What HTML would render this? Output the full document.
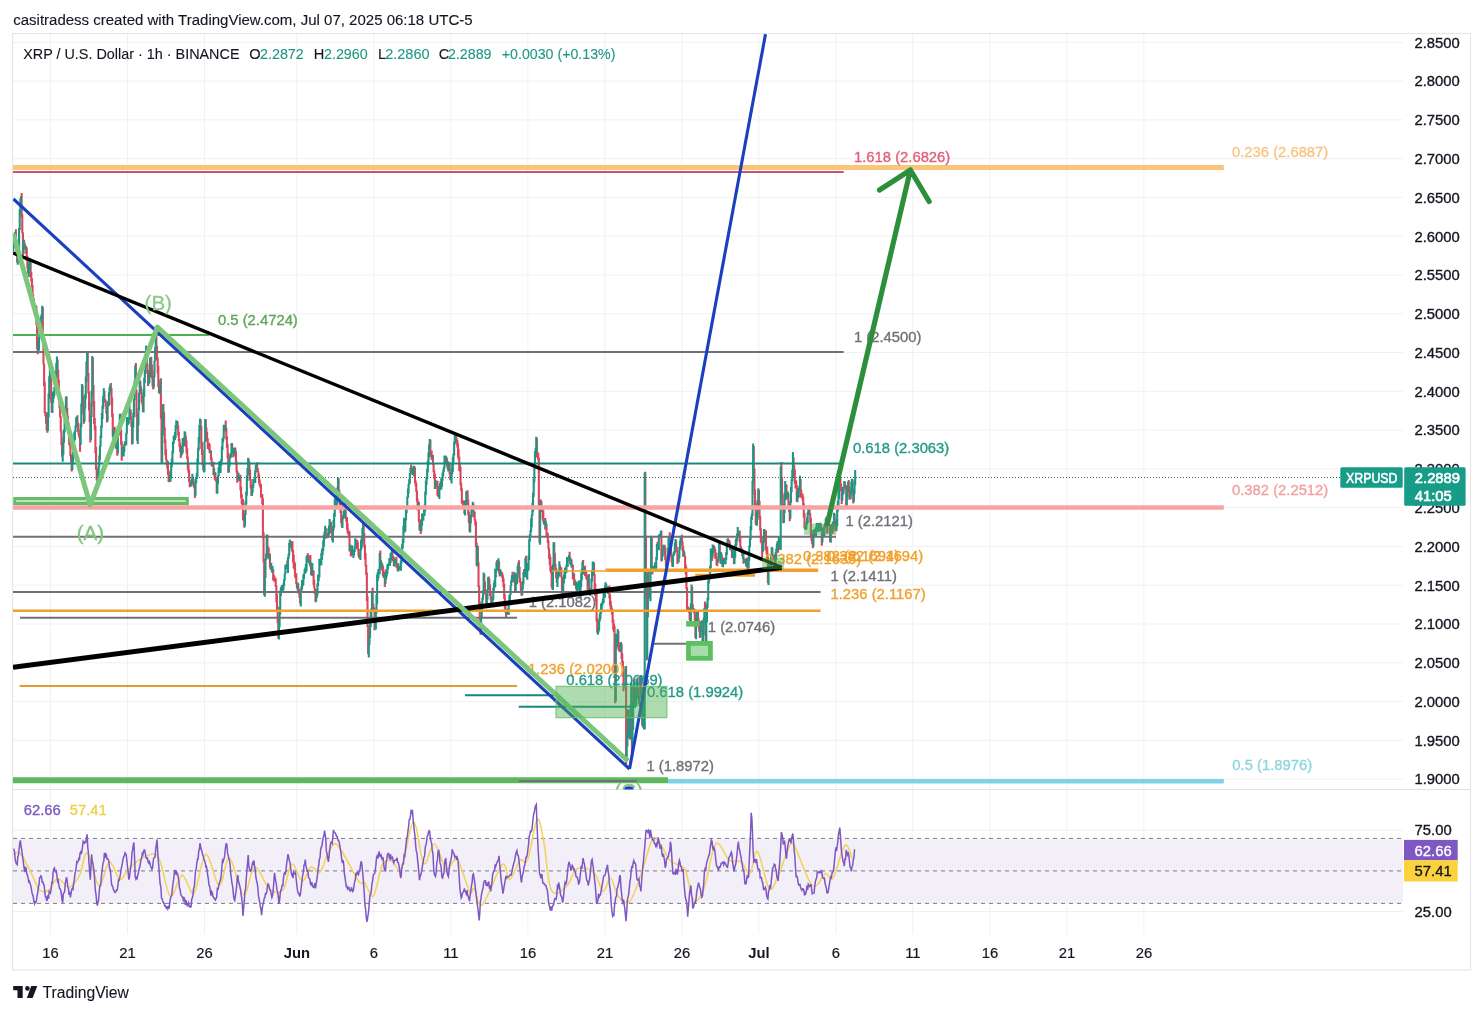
<!DOCTYPE html><html><head><meta charset="utf-8"><style>
html,body{margin:0;padding:0;background:#fff;width:1483px;height:1014px;overflow:hidden}
svg{display:block;font-family:"Liberation Sans", sans-serif;will-change:transform}
</style></head><body>
<svg width="1483" height="1014" viewBox="0 0 1483 1014">
<defs><clipPath id="mp"><rect x="13" y="34" width="1390" height="755.5"/></clipPath>
<clipPath id="rp"><rect x="13" y="789.5" width="1390" height="144.5"/></clipPath></defs>
<rect x="0" y="0" width="1483" height="1014" fill="#ffffff"/>

<text x="13.2" y="24.8" font-size="15.2" fill="#131722" stroke="#131722" stroke-width="0.12" textLength="459.4" lengthAdjust="spacingAndGlyphs">casitradess created with TradingView.com, Jul 07, 2025 06:18 UTC-5</text>
<path d="M13 42.3H1403 M13 81.1H1403 M13 119.9H1403 M13 158.6H1403 M13 197.4H1403 M13 236.2H1403 M13 275.0H1403 M13 313.8H1403 M13 352.5H1403 M13 391.3H1403 M13 430.1H1403 M13 468.9H1403 M13 507.7H1403 M13 546.4H1403 M13 585.2H1403 M13 624.0H1403 M13 662.8H1403 M13 701.6H1403 M13 740.3H1403 M13 779.1H1403 M13 830.3H1403 M13 911.5H1403 M50.5 34V934 M127.5 34V934 M204.5 34V934 M296.9 34V934 M373.9 34V934 M450.9 34V934 M527.9 34V934 M604.9 34V934 M681.9 34V934 M758.9 34V934 M835.9 34V934 M912.9 34V934 M989.9 34V934 M1066.9 34V934 M1143.9 34V934" stroke="#f0f1f1" stroke-width="1" fill="none"/>
<rect x="12.5" y="33.5" width="1458" height="936.5" fill="none" stroke="#e6e6e8" stroke-width="1.2"/>
<line x1="13" y1="789.5" x2="1470" y2="789.5" stroke="#e2e2e5" stroke-width="1.2"/>
<g clip-path="url(#mp)"><path d="M15.87 229.3V249.0M16.51 245.5V255.9M17.15 253.2V262.6M21.64 192.9V217.2M22.28 214.0V233.2M22.93 232.4V255.2M24.21 240.2V246.4M24.85 243.4V248.3M26.13 246.4V253.7M26.78 247.6V260.9M27.42 256.2V268.8M28.06 266.8V273.6M30.63 259.0V277.2M31.27 271.9V281.3M31.91 278.0V287.2M32.55 284.9V302.0M33.19 294.5V301.4M33.83 298.6V308.2M35.12 306.4V312.7M36.4 306.1V325.0M37.04 324.0V349.1M37.68 338.6V354.2M42.82 307.1V337.5M43.46 335.3V364.3M44.1 363.8V386.3M44.74 381.8V413.1M45.38 411.7V416.3M46.03 412.3V423.8M46.67 421.4V430.6M47.31 424.4V432.7M50.52 360.4V385.2M51.16 378.5V402.8M51.8 402.2V412.2M57.58 359.5V372.5M58.22 369.8V383.7M58.86 379.9V396.9M59.5 394.5V408.4M60.14 404.0V417.5M60.78 416.4V431.4M61.43 431.0V445.0M62.07 441.4V456.8M66.56 396.2V410.7M67.2 407.8V420.4M67.84 415.4V423.7M68.48 421.7V434.1M69.12 431.6V444.6M69.77 438.7V446.1M70.41 437.2V456.2M71.05 454.6V462.5M71.69 459.6V471.6M77.47 415.3V424.0M78.11 423.0V432.5M78.75 429.2V435.5M79.39 432.9V438.2M80.03 436.3V451.8M82.6 385.3V398.4M83.24 396.1V414.3M83.88 408.7V423.8M87.73 352.8V375.8M88.38 373.1V393.6M89.02 391.6V410.5M89.66 402.5V422.3M90.3 418.2V442.4M92.87 357.5V387.0M93.51 385.0V406.8M94.15 400.9V424.0M94.79 417.9V430.3M95.43 425.8V453.2M96.08 447.0V469.8M96.72 467.6V480.6M104.42 390.9V399.9M105.06 399.1V402.6M105.7 400.2V406.8M106.34 406.3V413.6M106.98 408.7V422.5M110.83 382.9V392.5M111.48 387.9V405.0M112.12 397.6V416.9M112.76 413.5V436.7M114.04 427.2V432.3M114.68 426.8V435.6M115.33 430.6V445.6M115.97 438.8V448.7M117.25 442.5V455.7M118.53 428.9V436.1M120.46 413.5V434.3M121.1 429.5V444.7M121.74 441.0V460.8M123.03 450.0V456.1M125.59 442.0V445.8M130.08 409.3V412.8M130.73 409.6V419.6M131.37 416.5V426.8M132.01 424.8V444.4M135.86 362.9V391.3M136.5 389.8V417.2M137.14 413.7V440.8M140.35 380.4V387.6M140.99 386.3V394.1M141.63 392.5V402.2M142.28 395.4V404.7M142.92 402.8V412.0M146.77 347.8V366.9M147.41 363.7V374.1M148.05 370.3V386.1M151.26 356.8V369.3M151.9 364.4V378.4M152.54 370.2V386.4M153.18 383.5V389.4M156.39 332.8V352.2M157.03 346.1V360.3M157.68 357.5V373.4M158.32 365.7V387.1M158.96 386.6V393.2M160.88 378.3V418.7M161.53 413.6V462.6M163.45 404.1V418.6M164.09 412.3V428.3M164.73 427.3V443.3M165.38 439.2V455.3M166.02 448.9V460.2M166.66 459.2V464.7M167.3 460.6V468.6M167.94 461.2V474.7M168.58 470.2V482.1M169.23 474.2V482.3M177.57 421.1V429.3M178.21 425.2V435.4M178.85 431.9V441.3M179.49 439.1V447.0M180.13 443.0V452.0M180.78 446.3V457.9M182.06 445.7V454.6M183.34 440.7V445.4M185.27 432.2V442.7M185.91 436.2V447.2M186.55 440.4V453.6M187.19 448.3V459.0M187.83 456.8V469.8M188.48 463.3V472.7M189.12 469.7V481.7M189.76 479.8V487.3M190.4 482.1V487.0M192.97 476.7V483.7M193.61 481.0V486.8M194.25 484.0V488.2M194.89 487.5V498.0M200.67 419.5V430.8M201.31 426.0V448.8M201.95 442.1V454.9M202.59 450.3V465.4M203.23 463.8V470.3M205.8 419.3V432.7M206.44 427.4V434.2M207.08 432.1V441.5M207.73 438.3V448.9M208.37 444.4V447.2M209.01 442.8V449.9M209.65 444.0V453.0M210.93 450.5V460.1M211.58 457.3V465.9M212.22 462.1V466.8M213.5 461.7V474.9M214.78 472.1V479.8M215.43 472.3V480.8M216.07 478.1V481.4M216.71 477.5V493.3M219.92 461.2V468.7M225.69 420.5V431.9M226.33 427.8V439.7M226.98 436.2V447.9M227.62 443.9V458.2M228.26 452.9V472.7M232.11 442.9V451.4M233.39 447.6V457.2M235.32 447.5V455.8M235.96 450.9V464.9M236.6 461.4V472.5M237.24 470.8V482.8M239.17 475.9V481.0M240.45 474.8V490.4M241.09 486.7V498.2M241.73 494.1V504.1M242.38 501.6V506.7M243.02 499.1V520.1M243.66 510.9V521.2M244.3 519.1V527.7M248.79 459.3V465.3M249.43 462.0V473.9M250.08 469.4V480.6M250.72 479.2V488.5M251.36 484.1V495.9M253.93 478.7V481.2M257.13 462.2V469.0M257.78 468.1V472.1M258.42 471.6V478.1M259.06 474.6V483.6M259.7 479.5V486.1M260.34 484.7V487.7M260.98 483.8V497.8M261.62 495.3V497.2M262.27 494.1V504.3M262.91 498.2V538.2M263.55 532.3V562.5M264.19 558.6V595.3M267.4 534.7V550.3M268.04 546.6V556.7M268.68 547.7V558.6M269.97 553.4V567.6M270.61 563.1V569.7M271.89 567.6V572.6M273.18 569.3V580.6M273.82 575.1V577.5M274.46 576.5V581.9M275.1 577.7V581.9M275.74 578.4V587.1M276.38 585.4V602.3M277.03 593.7V610.5M277.67 606.5V623.3M278.31 618.9V638.8M282.8 585.9V590.0M286.65 563.7V567.3M287.29 560.7V566.5M291.14 542.3V545.9M291.78 540.9V551.0M292.43 541.3V552.3M293.07 550.1V562.5M293.71 554.8V568.3M294.35 561.6V569.8M294.99 563.1V576.9M295.63 575.5V578.6M296.28 573.2V584.1M296.92 583.0V588.2M298.2 583.5V592.1M298.84 589.1V593.9M299.48 588.8V597.8M300.13 594.6V603.6M302.69 580.1V586.3M307.83 553.3V559.2M308.47 555.8V562.4M309.11 561.0V562.9M310.39 554.9V567.3M311.03 562.4V575.1M312.96 570.1V575.8M313.6 570.5V584.7M314.24 579.7V588.3M314.88 587.9V594.2M315.53 589.3V602.2M325.79 528.1V538.3M326.43 535.9V537.9M330.28 521.7V527.0M330.93 521.9V533.4M331.57 528.6V531.4M332.21 526.7V540.5M335.42 497.4V507.8M338.63 478.2V494.4M339.27 489.5V500.1M339.91 495.4V505.3M340.55 503.7V513.0M341.19 511.3V523.3M341.83 519.5V527.6M345.68 501.0V518.9M346.33 517.2V521.8M346.97 517.1V529.7M347.61 523.6V533.3M348.25 529.6V534.6M348.89 532.2V537.8M349.53 531.3V551.6M350.82 546.7V556.6M351.46 549.8V553.3M352.74 552.2V555.7M355.95 539.5V544.0M356.59 541.2V548.9M357.23 539.9V548.3M357.88 541.9V550.5M358.52 549.1V556.4M359.16 552.3V558.3M359.8 557.1V558.6M363.65 524.8V540.9M364.29 532.9V547.6M364.93 544.7V559.6M365.58 553.1V566.5M366.22 565.0V575.1M366.86 572.6V600.9M367.5 596.2V626.9M368.14 625.3V653.9M372.63 587.8V606.0M373.28 603.6V610.6M373.92 606.9V612.0M374.56 608.1V630.2M380.33 550.6V564.3M380.98 560.2V569.7M382.26 563.4V570.6M382.9 565.4V575.9M383.54 569.7V577.7M384.83 572.1V587.1M386.11 569.3V579.8M392.53 549.4V561.2M393.17 556.1V561.1M393.81 557.3V566.1M396.38 556.7V567.3M397.02 563.3V568.2M397.66 567.1V571.2M398.94 565.8V567.6M399.58 566.5V569.7M400.23 568.2V570.3M404.72 520.2V532.6M411.13 464.5V473.1M411.78 467.1V473.1M412.42 468.9V475.0M414.34 466.1V476.6M414.98 467.6V483.1M415.63 480.4V486.2M416.27 483.1V491.7M416.91 490.6V501.4M417.55 498.6V510.2M418.83 501.6V521.8M419.48 519.0V530.7M420.76 519.7V534.0M422.68 513.7V519.2M430.38 439.7V453.6M431.03 450.4V456.7M431.67 450.6V460.1M432.95 455.1V464.9M433.59 463.5V472.2M434.23 470.3V478.7M434.88 473.8V489.1M436.16 480.7V486.2M436.8 481.5V485.9M437.44 480.8V495.7M438.08 486.1V496.5M438.73 491.8V497.2M440.65 481.1V489.0M445.14 456.3V461.2M446.43 456.7V462.9M447.07 458.4V466.6M447.71 461.3V469.5M448.99 463.8V466.8M449.63 462.6V474.4M450.28 472.2V480.2M456.05 433.4V442.4M456.69 437.9V443.9M457.33 440.1V447.5M457.98 443.2V457.6M458.62 448.9V459.7M459.26 456.8V470.9M459.9 464.4V471.4M460.54 466.7V485.2M461.18 482.9V490.9M461.83 488.3V503.4M462.47 499.9V504.2M463.11 501.3V506.7M463.75 502.5V506.3M464.39 500.5V513.9M466.96 493.5V495.6M467.6 490.3V505.2M468.24 499.5V515.2M468.88 511.7V523.0M469.53 518.7V531.7M470.81 514.7V523.4M473.38 503.3V516.9M474.66 511.5V520.4M475.3 519.4V525.4M475.94 521.4V547.0M476.58 542.6V565.4M477.87 545.9V565.0M478.51 562.3V587.0M479.15 585.5V605.6M479.79 601.5V624.9M480.43 621.1V634.5M484.28 574.1V584.0M484.93 581.6V592.7M485.57 589.8V595.4M486.21 593.7V607.7M488.78 576.6V582.2M489.42 579.1V589.9M490.06 584.4V596.0M490.7 592.3V600.5M491.34 596.4V603.8M497.12 560.0V568.5M499.04 561.0V573.6M499.68 570.8V576.5M501.61 571.4V575.2M502.25 573.0V577.9M502.89 575.2V582.0M503.53 578.2V587.3M504.18 583.7V598.7M504.82 594.8V609.1M505.46 604.8V612.5M506.1 610.3V617.0M507.38 611.7V614.6M512.52 571.8V577.6M513.16 575.5V582.4M515.08 573.0V591.2M516.37 578.3V584.6M518.93 560.2V572.7M519.58 566.7V582.3M520.22 578.1V582.7M520.86 581.5V590.7M521.5 588.0V595.8M524.07 569.1V575.4M525.99 555.7V576.4M526.63 571.2V578.1M536.9 438.1V457.4M537.54 452.5V457.1M538.18 452.4V460.3M538.83 457.4V505.1M539.47 500.6V542.9M540.75 499.5V504.9M541.39 501.0V509.9M542.03 507.6V512.1M542.67 508.0V519.4M543.32 510.4V522.3M544.6 520.3V523.6M545.24 518.1V529.8M546.52 523.8V535.8M547.17 532.4V537.9M547.81 533.1V543.1M548.45 540.3V549.2M549.09 548.3V558.8M549.73 553.9V564.8M550.38 557.0V571.3M551.02 565.9V573.3M551.66 566.6V587.3M552.3 580.3V589.5M554.23 542.2V556.7M554.87 553.1V567.1M555.51 563.7V571.4M556.15 567.8V578.5M556.79 572.1V583.1M558.72 570.5V576.8M560.0 564.9V568.4M560.64 567.1V570.6M561.28 567.4V577.2M561.92 576.7V591.5M569.62 551.8V561.2M570.27 557.1V564.6M571.55 559.5V567.6M572.83 564.8V579.4M574.12 573.2V585.4M574.76 579.6V584.3M576.04 581.7V589.1M577.33 585.4V590.9M579.25 582.0V588.6M583.1 560.0V574.4M585.02 565.8V576.2M585.67 573.8V575.3M586.31 571.6V579.1M586.95 576.0V579.9M587.59 579.0V589.8M588.88 574.0V593.8M589.52 589.6V593.1M594.01 562.6V576.1M594.65 574.3V593.1M595.29 583.6V596.1M595.93 590.1V601.1M596.58 593.4V621.6M597.22 617.9V632.7M606.84 586.1V590.1M607.48 588.3V591.9M608.77 586.8V592.1M609.41 585.6V598.5M610.05 594.6V605.7M610.69 600.7V610.8M611.33 605.6V610.5M611.98 608.2V614.8M612.62 609.2V622.8M613.26 619.2V629.7M613.9 623.6V632.1M614.54 625.9V674.6M615.18 669.4V703.2M616.47 633.7V647.2M618.39 630.9V649.7M619.03 642.8V651.5M619.67 649.3V651.1M621.6 643.8V659.0M622.24 653.2V663.2M622.88 661.0V676.5M623.52 669.6V691.2M624.17 684.5V688.0M626.09 666.2V764.1M628.66 709.8V731.4M629.3 725.2V737.7M631.87 685.5V753.1M634.43 678.8V690.4M635.08 687.5V705.3M635.72 699.5V706.1M637.64 677.2V693.8M638.28 687.8V697.4M638.92 696.8V703.8M641.49 675.6V698.8M642.13 696.3V725.3M643.42 688.7V711.7M644.06 706.4V729.6M645.34 471.7V539.9M645.98 535.5V599.0M646.62 594.0V660.6M648.55 571.4V584.7M649.19 582.8V595.3M649.83 593.7V598.5M651.76 537.5V567.4M652.4 566.2V574.3M657.53 541.7V546.5M661.38 530.4V561.5M663.95 545.4V546.1M664.59 544.7V555.1M665.23 546.9V559.9M665.88 555.8V566.3M666.52 562.7V567.8M669.73 532.3V542.9M670.37 540.5V546.7M671.01 546.2V555.5M671.65 554.4V562.5M672.29 558.2V566.7M676.14 540.2V549.3M676.78 546.8V552.0M677.42 550.6V563.9M678.07 555.8V559.6M681.27 537.3V541.4M681.92 534.7V543.9M682.56 541.4V551.2M683.2 546.6V556.8M684.48 552.4V557.0M685.12 555.9V568.9M685.77 564.5V574.6M686.41 567.3V589.1M687.05 587.3V610.6M687.69 606.2V611.6M688.33 608.9V610.7M688.98 607.5V612.8M689.62 610.2V619.9M690.26 616.8V621.9M692.18 587.0V610.6M692.83 604.5V611.7M694.11 608.5V613.3M694.75 609.6V620.4M695.39 614.5V638.0M697.96 610.0V625.9M698.6 618.3V627.6M699.24 622.3V631.7M699.88 627.7V638.0M701.81 620.2V632.0M702.45 631.8V641.9M705.02 601.5V621.3M705.66 616.3V643.7M712.08 548.9V561.1M714.0 545.5V553.0M714.64 546.9V552.0M715.28 549.3V559.1M715.92 552.7V558.1M716.57 556.8V565.1M717.21 559.1V566.3M719.77 542.0V557.7M720.42 556.2V563.7M721.7 554.2V559.9M722.34 557.2V566.6M723.62 560.5V562.6M724.27 557.7V564.2M728.12 538.3V542.0M728.76 540.8V544.3M729.4 539.9V543.8M730.04 542.5V549.9M731.33 546.6V551.2M731.97 549.8V558.0M733.89 551.2V564.3M738.38 530.7V535.8M739.67 530.4V542.4M740.31 536.7V547.5M740.95 546.0V552.3M742.23 548.9V556.0M743.52 551.6V563.7M744.8 559.2V561.4M745.44 558.8V562.5M746.73 557.7V564.5M747.37 558.3V572.7M753.78 446.1V471.4M754.43 468.4V494.7M755.07 489.5V509.9M755.71 502.8V524.6M758.92 489.8V507.7M759.56 501.0V519.9M760.2 515.9V530.5M760.84 528.3V542.0M761.48 537.8V543.6M762.12 541.0V557.7M764.69 529.5V537.8M765.33 533.0V538.4M765.98 530.6V550.5M766.62 549.5V554.5M767.26 546.5V561.9M767.9 556.6V583.3M772.39 547.9V555.9M773.68 555.0V560.4M774.32 554.7V560.4M774.96 559.3V563.4M778.17 541.4V552.7M779.45 537.4V549.3M780.09 541.5V549.5M781.38 462.1V484.8M782.02 477.2V498.0M782.66 495.0V509.0M783.3 503.9V523.3M786.51 484.4V499.5M787.15 493.3V498.0M788.43 493.2V505.1M789.08 503.6V511.9M789.72 507.2V521.3M793.57 457.3V470.5M794.21 465.6V470.6M794.85 469.4V484.0M795.49 479.8V488.4M796.13 480.5V487.5M796.77 484.7V501.8M798.06 488.0V498.4M800.62 478.9V497.7M801.27 489.8V496.5M801.91 494.1V496.4M802.55 493.6V500.2M803.19 496.4V508.7M803.83 503.2V517.5M804.48 512.9V528.6M805.12 525.7V529.3M809.61 505.5V514.8M810.25 513.5V522.7M810.89 517.8V536.5M811.53 530.2V540.9M812.18 533.6V544.2M812.82 541.3V548.3M814.74 528.8V534.0M815.38 530.7V535.0M817.95 522.9V531.5M819.23 526.2V530.9M820.52 522.9V528.2M821.16 524.2V531.0M821.8 530.1V545.8M823.73 532.5V536.3M826.29 516.8V524.8M826.93 523.1V533.4M828.86 522.2V525.5M829.5 525.0V533.6M830.14 532.8V542.0M831.43 524.0V527.6M832.71 521.6V534.0M834.63 513.7V526.7M835.27 521.5V531.4M835.92 524.3V531.3M840.41 477.7V490.3M841.05 483.6V491.2M841.69 487.5V504.0M844.9 481.7V487.8M845.54 484.9V489.7M846.18 485.2V508.1M848.75 479.9V492.0M849.39 486.4V499.7M850.03 494.7V498.3M852.6 479.2V495.6M853.24 493.3V503.6" stroke="#dc465a" stroke-width="2.1" fill="none"/>
<path d="M13.3 243.5V251.8M13.94 237.4V247.6M14.58 233.1V242.1M15.23 232.0V238.0M17.79 249.8V264.7M18.43 240.9V251.2M19.08 228.1V247.8M19.72 209.5V229.9M20.36 198.5V214.6M21.0 196.3V201.3M23.57 239.5V254.0M25.49 245.5V249.2M28.7 263.6V276.9M29.34 260.4V268.7M29.98 258.6V270.2M34.48 303.5V311.5M35.76 305.1V311.4M38.33 343.2V351.1M38.97 337.0V350.3M39.61 329.9V338.4M40.25 322.2V332.4M40.89 316.3V325.3M41.53 314.2V320.6M42.18 305.8V318.4M47.95 412.6V431.1M48.59 393.5V417.5M49.23 376.2V399.3M49.88 360.9V380.7M52.44 402.0V413.0M53.08 391.6V403.0M53.73 392.8V398.4M54.37 386.9V396.0M55.01 378.8V390.7M55.65 370.9V385.1M56.29 363.0V379.6M56.93 356.5V369.3M62.71 449.9V461.7M63.35 437.5V455.0M63.99 429.3V442.7M64.63 420.5V432.4M65.28 411.4V425.5M65.92 396.7V414.6M72.33 456.2V470.0M72.98 452.3V464.6M73.62 440.1V454.3M74.26 432.3V442.6M74.9 430.8V440.1M75.54 425.6V432.0M76.18 417.2V427.5M76.83 416.5V421.4M80.67 423.6V445.1M81.32 403.6V427.2M81.96 384.1V407.2M84.53 407.3V421.8M85.17 394.1V408.4M85.81 376.6V398.8M86.45 361.4V382.0M87.09 350.9V363.1M90.94 415.5V439.8M91.58 390.7V417.1M92.23 356.1V396.1M97.36 479.7V481.8M98.0 471.8V480.6M98.64 465.8V475.6M99.28 455.5V466.8M99.92 445.6V460.0M100.57 435.4V446.5M101.21 425.5V437.9M101.85 413.0V427.5M102.49 405.6V419.0M103.13 395.9V409.0M103.78 388.3V399.0M107.62 401.3V421.3M108.27 402.0V406.4M108.91 392.2V405.4M109.55 387.1V395.5M110.19 384.6V390.5M113.4 428.4V439.5M116.61 440.0V448.8M117.89 425.5V453.6M119.18 422.4V435.0M119.82 414.1V424.4M122.38 446.5V456.2M123.67 448.2V456.5M124.31 443.8V452.0M124.95 441.2V445.4M126.23 433.2V444.7M126.88 416.9V433.8M127.52 419.9V425.2M128.16 418.2V424.8M128.8 417.3V423.8M129.44 405.6V419.8M132.65 420.4V444.0M133.29 412.4V427.4M133.93 399.0V417.3M134.58 380.7V400.0M135.22 365.6V384.7M137.78 421.0V443.9M138.43 408.3V425.4M139.07 392.7V410.2M139.71 380.5V393.7M143.56 388.8V412.5M144.2 377.8V397.0M144.84 370.0V383.1M145.48 354.6V373.6M146.13 345.6V362.9M148.69 379.6V384.3M149.33 372.2V382.9M149.98 357.5V377.3M150.62 359.3V360.7M153.83 376.1V387.8M154.47 360.7V377.3M155.11 346.7V361.3M155.75 333.7V348.9M159.6 388.9V391.9M160.24 380.0V394.2M162.17 430.5V462.7M162.81 404.5V435.5M169.87 476.9V480.6M170.51 471.8V481.8M171.15 462.6V478.5M171.79 458.4V467.3M172.43 450.6V464.2M173.08 441.6V453.2M173.72 435.5V443.8M174.36 437.3V439.0M175.0 431.9V440.2M175.64 424.9V437.7M176.28 420.2V428.5M176.93 421.7V425.5M181.42 447.2V455.4M182.7 438.0V452.9M183.98 437.4V446.1M184.63 431.3V440.7M191.04 482.7V486.2M191.68 478.6V484.2M192.33 473.8V484.7M195.53 479.2V495.8M196.18 476.7V483.6M196.82 473.2V479.1M197.46 458.3V476.8M198.1 447.5V463.6M198.74 437.0V450.4M199.38 424.9V442.6M200.03 418.5V429.2M203.88 465.7V472.4M204.52 441.6V471.7M205.16 419.1V442.0M210.29 450.2V453.3M212.86 463.2V465.3M214.14 468.2V475.5M217.35 479.9V493.7M217.99 475.6V484.2M218.63 467.3V476.4M219.28 461.5V468.9M220.56 463.8V473.0M221.2 459.0V465.8M221.84 446.3V461.7M222.48 438.2V450.1M223.13 437.2V442.5M223.77 424.7V439.1M224.41 428.2V430.7M225.05 424.9V429.6M228.9 461.7V472.4M229.54 457.5V466.6M230.18 455.0V458.6M230.83 452.8V457.4M231.47 443.0V457.5M232.75 448.4V453.4M234.03 450.2V454.8M234.68 448.7V453.5M237.88 476.9V478.9M238.53 472.8V477.6M239.81 476.9V480.7M244.94 513.9V526.4M245.58 501.3V514.9M246.23 491.4V504.6M246.87 475.6V495.6M247.51 467.9V481.0M248.15 457.7V475.2M252.0 488.4V495.7M252.64 484.7V492.8M253.28 478.9V487.7M254.57 480.1V482.1M255.21 470.2V483.0M255.85 464.9V472.4M256.49 463.4V465.6M264.83 576.9V596.7M265.48 559.0V578.1M266.12 553.4V559.8M266.76 534.4V558.7M269.33 553.9V559.5M271.25 562.7V569.7M272.53 566.0V572.4M278.95 622.6V639.5M279.59 607.3V627.3M280.23 590.6V614.5M280.88 587.4V596.1M281.52 585.9V589.9M282.16 584.9V592.2M283.44 583.6V590.4M284.08 579.2V586.2M284.73 573.6V580.4M285.37 564.7V574.1M286.01 565.0V568.9M287.93 557.2V573.1M288.58 554.0V559.0M289.22 542.8V555.5M289.86 539.6V547.7M290.5 542.8V547.8M297.56 582.3V589.7M300.77 590.4V606.4M301.41 586.2V592.1M302.05 580.1V589.4M303.33 574.5V585.1M303.98 573.5V579.0M304.62 568.9V573.9M305.26 567.4V573.5M305.9 564.1V572.5M306.54 556.4V571.3M307.18 555.3V561.7M309.75 559.3V564.9M311.68 565.0V575.7M312.32 562.9V571.5M316.17 594.7V601.4M316.81 589.7V597.9M317.45 583.6V595.4M318.09 574.6V586.1M318.73 575.4V581.0M319.38 558.8V577.2M320.02 562.0V565.7M320.66 561.7V564.2M321.3 553.1V565.3M321.94 549.3V559.7M322.58 547.8V555.6M323.23 540.6V551.1M323.87 534.8V546.7M324.51 531.8V539.6M325.15 525.8V533.0M327.08 535.8V538.2M327.72 533.2V537.8M328.36 528.2V536.0M329.0 525.5V535.2M329.64 519.0V530.1M332.85 526.2V542.5M333.49 520.1V530.8M334.13 513.2V527.7M334.78 498.7V516.8M336.06 502.3V508.9M336.7 494.5V505.8M337.34 487.6V504.5M337.98 477.5V495.6M342.48 518.0V528.0M343.12 515.0V519.3M343.76 510.3V517.6M344.4 511.6V513.3M345.04 501.3V517.7M350.18 544.4V550.2M352.1 545.3V554.1M353.38 552.6V558.1M354.03 549.5V555.4M354.67 546.2V552.1M355.31 538.2V547.2M360.44 548.4V559.9M361.08 540.0V550.5M361.73 537.6V548.3M362.37 528.1V544.6M363.01 522.0V534.6M368.78 644.8V657.4M369.43 636.3V645.3M370.07 622.2V638.1M370.71 611.5V627.1M371.35 608.3V617.2M371.99 592.9V609.9M375.2 622.9V627.6M375.84 610.0V629.4M376.48 594.4V613.6M377.13 574.6V604.3M377.77 572.1V581.0M378.41 569.1V578.5M379.05 569.5V574.1M379.69 553.0V574.2M381.62 562.0V567.8M384.18 572.8V578.1M385.47 572.7V584.0M386.75 572.7V576.6M387.39 564.6V573.8M388.03 564.0V569.3M388.68 563.0V566.0M389.32 558.1V565.9M389.96 558.4V565.7M390.6 553.1V562.9M391.24 552.6V559.6M391.88 549.0V554.0M394.45 558.8V566.7M395.09 560.0V563.8M395.73 559.3V562.9M398.3 563.3V571.6M400.87 560.5V570.7M401.51 550.2V563.4M402.15 544.0V554.4M402.79 539.0V548.3M403.43 525.8V543.0M404.08 517.8V530.4M405.36 518.4V531.3M406.0 509.5V520.5M406.64 505.9V513.2M407.28 496.8V508.3M407.93 488.4V497.9M408.57 483.7V493.8M409.21 479.2V485.1M409.85 472.9V483.4M410.49 467.8V474.1M413.06 468.7V474.2M413.7 465.8V475.4M418.19 502.4V509.3M420.12 524.0V530.0M421.4 520.9V531.6M422.04 513.6V525.7M423.33 515.0V520.7M423.97 509.3V516.1M424.61 504.8V515.8M425.25 491.6V511.2M425.89 480.4V495.0M426.53 476.9V485.1M427.18 468.8V479.3M427.82 460.5V472.6M428.46 452.2V465.4M429.1 444.5V457.6M429.74 438.9V447.4M432.31 455.9V458.8M435.52 480.0V488.7M439.37 487.7V498.9M440.01 483.3V490.2M441.29 477.6V489.5M441.93 479.7V487.1M442.58 472.6V480.8M443.22 470.2V476.2M443.86 467.1V471.7M444.5 455.5V468.1M445.78 455.6V463.2M448.35 461.8V471.6M450.92 473.8V479.4M451.56 468.3V483.6M452.2 463.6V474.2M452.84 456.9V471.7M453.48 453.5V462.0M454.13 441.5V455.6M454.77 435.0V444.3M455.41 433.2V442.1M465.03 501.5V515.5M465.68 500.2V508.8M466.32 490.9V504.6M470.17 515.0V532.6M471.45 506.3V517.8M472.09 505.8V511.4M472.73 501.7V507.5M474.02 511.6V513.4M477.23 545.2V566.6M481.08 616.6V634.8M481.72 602.8V618.7M482.36 597.5V607.3M483.0 590.3V599.8M483.64 572.4V594.1M486.85 594.9V605.1M487.49 588.9V599.6M488.13 576.9V590.0M491.98 596.9V602.7M492.63 595.7V601.8M493.27 587.9V599.7M493.91 582.8V590.4M494.55 579.9V586.3M495.19 568.8V587.4M495.83 569.3V577.5M496.48 562.1V571.6M497.76 562.5V570.6M498.4 558.2V564.2M500.33 569.0V576.0M500.97 571.4V573.3M506.74 612.2V614.3M508.03 608.4V613.9M508.67 601.7V614.9M509.31 595.3V605.4M509.95 594.0V600.4M510.59 585.6V595.0M511.23 580.3V586.0M511.88 575.3V581.4M513.8 575.3V580.2M514.44 571.9V575.9M515.73 577.0V592.4M517.01 573.7V584.0M517.65 566.2V578.0M518.29 562.7V573.8M522.14 587.2V595.5M522.78 581.1V589.4M523.43 572.0V584.6M524.71 570.7V577.0M525.35 558.0V575.7M527.27 563.1V579.7M527.92 568.1V571.3M528.56 555.5V570.2M529.2 539.2V560.3M529.84 534.5V541.8M530.48 530.3V536.1M531.12 518.6V532.0M531.77 514.8V527.2M532.41 502.8V515.8M533.05 492.7V512.1M533.69 478.3V496.8M534.33 465.6V482.6M534.98 451.1V468.7M535.62 447.8V453.9M536.26 436.7V454.3M540.11 500.4V544.7M543.96 520.6V524.7M545.88 520.8V528.2M552.94 564.2V590.0M553.58 542.2V570.7M557.43 572.7V586.9M558.08 570.2V578.9M559.36 561.2V576.1M562.57 588.5V594.1M563.21 579.9V591.5M563.85 574.8V583.6M564.49 570.1V578.2M565.13 567.5V578.7M565.77 567.4V573.1M566.42 564.7V573.1M567.06 557.1V566.5M567.7 558.2V567.0M568.34 558.1V560.8M568.98 555.1V560.9M570.91 559.0V565.6M572.19 564.5V567.3M573.48 574.2V576.4M575.4 581.1V585.2M576.68 582.8V590.9M577.97 583.5V589.9M578.61 580.6V586.5M579.89 586.4V592.5M580.53 580.3V598.3M581.17 573.2V587.1M581.82 568.7V580.3M582.46 561.5V571.6M583.74 568.7V572.8M584.38 568.2V573.4M588.23 574.8V585.7M590.16 588.2V595.8M590.8 587.8V592.5M591.44 578.6V591.3M592.08 570.1V581.4M592.73 561.4V576.1M593.37 561.9V566.2M597.86 628.0V634.7M598.5 628.0V632.5M599.14 619.6V630.4M599.78 613.7V621.4M600.42 610.4V619.3M601.07 603.7V613.7M601.71 603.1V611.5M602.35 601.5V605.8M602.99 598.3V602.6M603.63 592.3V603.3M604.27 594.1V597.2M604.92 585.4V597.7M605.56 582.2V589.9M606.2 583.7V589.5M608.12 589.2V593.9M615.83 633.9V701.1M617.11 639.1V646.8M617.75 629.1V639.8M620.32 650.2V652.2M620.96 642.0V651.3M624.81 683.8V687.2M625.45 666.2V686.4M626.73 743.3V759.7M627.38 731.6V746.4M628.02 709.5V737.6M629.94 716.6V739.5M630.58 704.4V723.1M631.23 682.5V709.0M632.51 727.8V754.4M633.15 702.9V729.8M633.79 680.0V708.1M636.36 693.2V706.2M637.0 679.1V698.7M639.57 694.3V706.5M640.21 677.7V697.2M640.85 675.0V681.3M642.77 687.5V727.5M644.7 472.5V729.2M647.27 614.8V659.6M647.91 572.6V617.2M650.48 569.9V601.2M651.12 535.8V574.3M653.04 565.8V570.4M653.68 568.7V571.7M654.33 567.7V569.4M654.97 562.6V569.0M655.61 562.3V569.2M656.25 557.1V568.3M656.89 544.1V559.8M658.17 544.4V549.5M658.82 535.1V550.3M659.46 534.1V538.6M660.1 535.7V536.6M660.74 531.0V536.7M662.02 554.2V560.7M662.67 548.9V556.8M663.31 544.7V550.5M667.16 559.0V567.8M667.8 548.2V564.0M668.44 538.2V553.0M669.08 535.9V544.6M672.93 555.3V566.9M673.58 552.4V556.0M674.22 551.1V555.0M674.86 542.4V552.9M675.5 539.1V545.6M678.71 555.5V562.6M679.35 547.0V558.1M679.99 540.9V549.6M680.63 536.8V546.3M683.84 550.6V555.9M690.9 603.2V624.8M691.54 584.5V608.1M693.47 608.5V611.5M696.03 619.2V639.3M696.67 611.2V625.8M697.32 611.7V615.9M700.52 627.1V637.1M701.17 621.1V629.5M703.09 630.6V644.1M703.73 617.6V635.4M704.38 607.8V622.5M706.3 614.7V644.1M706.94 603.4V622.3M707.58 597.6V607.9M708.23 580.5V600.3M708.87 574.9V583.4M709.51 573.6V579.4M710.15 565.8V576.1M710.79 548.6V568.1M711.43 548.6V557.2M712.72 544.6V557.5M713.36 545.5V549.5M717.85 559.2V562.5M718.49 552.4V561.3M719.13 541.2V555.7M721.06 552.0V564.0M722.98 560.2V567.2M724.91 558.5V563.4M725.55 558.5V564.2M726.19 552.1V560.3M726.83 545.1V555.0M727.48 538.8V546.3M730.68 546.6V550.0M732.61 548.9V558.0M733.25 549.4V556.5M734.53 548.4V563.9M735.18 544.5V557.8M735.82 539.3V548.4M736.46 538.1V545.5M737.1 533.5V540.9M737.74 527.0V535.4M739.02 532.7V535.2M741.59 548.2V552.5M742.88 549.8V559.0M744.16 559.6V562.7M746.08 558.4V566.5M748.01 567.4V569.4M748.65 556.2V568.2M749.29 545.5V560.7M749.93 538.2V547.2M750.58 526.1V539.9M751.22 516.7V530.3M751.86 513.5V520.1M752.5 480.8V516.0M753.14 443.6V483.5M756.35 523.2V525.4M756.99 511.8V525.7M757.63 500.1V517.8M758.27 488.2V500.7M762.77 546.4V552.2M763.41 536.2V550.4M764.05 528.9V542.8M768.54 566.6V585.0M769.18 565.3V567.5M769.83 561.0V569.3M770.47 562.5V568.5M771.11 554.8V566.7M771.75 546.9V558.3M773.03 554.4V555.6M775.6 552.3V563.3M776.24 548.7V559.8M776.88 543.4V551.6M777.52 541.1V548.9M778.81 537.3V546.2M780.73 466.6V550.1M783.94 511.0V522.8M784.58 492.7V513.3M785.23 480.9V500.2M785.87 484.8V487.5M787.79 491.6V498.5M790.36 500.4V518.7M791.0 487.1V502.8M791.64 478.9V491.9M792.28 469.8V481.6M792.93 452.0V477.0M797.42 491.8V502.3M798.7 487.9V497.0M799.34 485.9V491.3M799.98 475.7V489.7M805.76 525.2V529.9M806.4 521.7V529.0M807.04 517.6V524.8M807.68 512.3V523.8M808.33 508.9V515.6M808.97 507.4V510.6M813.46 530.3V546.6M814.1 529.2V536.7M816.02 527.0V536.6M816.67 523.0V530.7M817.31 523.9V526.4M818.59 522.9V532.1M819.88 522.7V530.5M822.44 527.4V542.5M823.08 531.0V536.6M824.37 524.8V537.1M825.01 523.1V528.0M825.65 518.7V525.5M827.58 524.3V526.2M828.22 520.2V524.8M830.78 525.5V542.7M832.07 525.0V532.0M833.35 524.5V529.5M833.99 512.7V525.4M836.56 518.6V530.6M837.2 505.1V526.0M837.84 500.9V511.6M838.48 489.1V505.8M839.12 476.8V499.0M839.77 475.3V479.9M842.33 492.8V500.7M842.98 486.9V494.8M843.62 486.6V493.4M844.26 480.9V487.1M846.83 492.8V508.1M847.47 486.0V497.0M848.11 481.4V487.9M850.68 489.8V499.2M851.32 481.8V493.4M851.96 478.7V490.4M853.88 488.8V501.8M854.52 480.9V494.3M855.17 470.0V485.2" stroke="#1d9683" stroke-width="2.1" fill="none"/></g>
<g clip-path="url(#mp)">
<line x1="13" y1="167.4" x2="1223.8" y2="167.4" stroke="#f9c57a" stroke-width="5"/>
<line x1="13" y1="172.0" x2="843.7" y2="172.0" stroke="#c9566a" stroke-width="2"/>
<line x1="13" y1="352.0" x2="843.7" y2="352.0" stroke="#707178" stroke-width="2"/>
<line x1="13" y1="463.6" x2="839.7" y2="463.6" stroke="#18887c" stroke-width="2"/>
<line x1="13" y1="507.4" x2="1223.8" y2="507.4" stroke="#f7a3a3" stroke-width="4.5"/>
<line x1="13" y1="536.8" x2="836" y2="536.8" stroke="#707178" stroke-width="2"/>
<line x1="551.8" y1="571.0" x2="605.4" y2="571.0" stroke="#f0a02c" stroke-width="1.5"/>
<line x1="605.4" y1="570.3" x2="818.2" y2="570.3" stroke="#f0a02c" stroke-width="3.5"/>
<line x1="695.2" y1="575.3" x2="755" y2="575.3" stroke="#f0a02c" stroke-width="3"/>
<line x1="13" y1="591.9" x2="820.6" y2="591.9" stroke="#707178" stroke-width="2"/>
<line x1="13" y1="610.7" x2="820.6" y2="610.7" stroke="#f0a02c" stroke-width="2.5"/>
<line x1="20" y1="617.8" x2="517" y2="617.8" stroke="#707178" stroke-width="2"/>
<line x1="19.6" y1="686.0" x2="517" y2="686.0" stroke="#e59a32" stroke-width="2"/>
<line x1="653" y1="643.8" x2="686" y2="643.8" stroke="#707178" stroke-width="2"/>
<line x1="465" y1="695.3" x2="556" y2="695.3" stroke="#18887c" stroke-width="2"/>
<line x1="518.7" y1="706.8" x2="636" y2="706.8" stroke="#18887c" stroke-width="2"/>
<line x1="13" y1="780.3" x2="668" y2="780.3" stroke="#5cb85c" stroke-width="6"/>
<line x1="519" y1="780.9" x2="637" y2="780.9" stroke="#707178" stroke-width="2"/>
<line x1="668" y1="781.2" x2="1223.8" y2="781.2" stroke="#7fd4e3" stroke-width="4.5"/>
<line x1="13" y1="334.9" x2="208.9" y2="334.9" stroke="#4caf50" stroke-width="2"/>
<line x1="13" y1="477.5" x2="1340" y2="477.5" stroke="#3b5e58" stroke-width="1" stroke-dasharray="1 2"/>
<text x="1232" y="157.0" font-size="14.8" fill="#f8c585" stroke="#f8c585" stroke-width="0.35">0.236 (2.6887)</text>
<text x="854" y="161.8" font-size="14.8" fill="#e0607a" stroke="#e0607a" stroke-width="0.35">1.618 (2.6826)</text>
<text x="854" y="341.6" font-size="14.8" fill="#707178" stroke="#707178" stroke-width="0.35">1 (2.4500)</text>
<text x="853" y="452.5" font-size="14.8" fill="#22998a" stroke="#22998a" stroke-width="0.35">0.618 (2.3063)</text>
<text x="1232" y="495.3" font-size="14.8" fill="#f2a0a0" stroke="#f2a0a0" stroke-width="0.35">0.382 (2.2512)</text>
<text x="845.5" y="526.4" font-size="14.8" fill="#707178" stroke="#707178" stroke-width="0.35">1 (2.2121)</text>
<text x="765" y="563.7" font-size="14.8" fill="#f0a02c" stroke="#f0a02c" stroke-width="0.35">0.382 (2.1635)</text>
<text x="803" y="561.0" font-size="14.8" fill="#f0a02c" stroke="#f0a02c" stroke-width="0.35">0.382 (2.1694)</text>
<text x="827" y="561.0" font-size="14.8" fill="#f0a02c" stroke="#f0a02c" stroke-width="0.35">0.382 (2.1694)</text>
<text x="830.5" y="580.7" font-size="14.8" fill="#707178" stroke="#707178" stroke-width="0.35">1 (2.1411)</text>
<text x="830.5" y="598.5" font-size="14.8" fill="#f0a02c" stroke="#f0a02c" stroke-width="0.35">1.236 (2.1167)</text>
<text x="528.7" y="606.6" font-size="14.8" fill="#707178" stroke="#707178" stroke-width="0.35">1 (2.1082)</text>
<text x="528" y="673.5" font-size="14.8" fill="#f0a02c" stroke="#f0a02c" stroke-width="0.35">1.236 (2.0200)</text>
<text x="707.8" y="632.0" font-size="14.8" fill="#707178" stroke="#707178" stroke-width="0.35">1 (2.0746)</text>
<text x="566.3" y="685.0" font-size="14.8" fill="#22998a" stroke="#22998a" stroke-width="0.35">0.618 (2.0069)</text>
<text x="647" y="696.5" font-size="14.8" fill="#22998a" stroke="#22998a" stroke-width="0.35">0.618 (1.9924)</text>
<text x="646.5" y="770.7" font-size="14.8" fill="#707178" stroke="#707178" stroke-width="0.35">1 (1.8972)</text>
<text x="1232.3" y="769.7" font-size="14.8" fill="#90d5dd" stroke="#90d5dd" stroke-width="0.35">0.5 (1.8976)</text>
<text x="218" y="324.9" font-size="14.8" fill="#5aa55a" stroke="#5aa55a" stroke-width="0.35">0.5 (2.4724)</text>
<rect x="14.7" y="498.5" width="172.6" height="5" fill="#b8e6b8" stroke="#66bb6a" stroke-width="3"/>
<line x1="13.4" y1="198.9" x2="629.5" y2="769" stroke="#1b3fbf" stroke-width="3.1"/>
<line x1="629.5" y1="769" x2="765.5" y2="34.2" stroke="#1b3fbf" stroke-width="3.1"/>
<line x1="13" y1="253.0" x2="781.7" y2="567.3" stroke="#000000" stroke-width="3.4"/>
<line x1="13" y1="667.3" x2="781.7" y2="567.5" stroke="#000000" stroke-width="4.9"/>
<polyline points="13.4,234 90.1,505 157.4,327 628,761" fill="none" stroke="#7cc67c" stroke-width="5" stroke-linejoin="round"/>
<text x="144.6" y="309.7" font-size="20.5" fill="#8ccb8c" stroke="#8ccb8c" stroke-width="0.35">(B)</text>
<text x="76.7" y="539.6" font-size="20.5" fill="#82c682" stroke="#82c682" stroke-width="0.35">(A)</text>
<text x="614.5" y="797.5" font-size="20.5" fill="#82c682" stroke="#82c682" stroke-width="0.35">(C)</text>
<ellipse cx="629" cy="789.5" rx="4.6" ry="3.2" fill="#1b3fbf"/>
<rect x="556" y="686.3" width="110.9" height="31.4" fill="rgba(76,175,80,0.45)" stroke="#6dbf6d" stroke-width="1"/>
<rect x="686.1" y="621" width="13.4" height="5.6" fill="#5cbf60"/>
<rect x="688.5" y="643.4" width="21.9" height="14.9" fill="#a8dca8" stroke="#5cbf60" stroke-width="4.8"/>
<rect x="804" y="523.7" width="32" height="11.1" fill="rgba(76,175,80,0.45)"/>
<rect x="762.3" y="557.8" width="21.9" height="11.3" fill="rgba(76,175,80,0.45)"/>
<path d="M827.4 523.7L910.4 170M879.5 190L910.4 170L929.2 201.6" fill="none" stroke="#2c8f3c" stroke-width="5.2" stroke-linecap="round" stroke-linejoin="round"/>
</g>
<text x="23.2" y="58.8" font-size="14.6" fill="#131722" stroke="#131722" stroke-width="0.12" textLength="216.3" lengthAdjust="spacingAndGlyphs">XRP / U.S. Dollar · 1h · BINANCE</text>
<text x="249.2" y="58.8" font-size="14.6" fill="#131722" stroke="#131722" stroke-width="0.12">O</text>
<text x="260" y="58.8" font-size="14.6" fill="#1f9985" stroke="#1f9985" stroke-width="0.12" textLength="43.8" lengthAdjust="spacingAndGlyphs">2.2872</text>
<text x="313.8" y="58.8" font-size="14.6" fill="#131722" stroke="#131722" stroke-width="0.12">H</text>
<text x="324" y="58.8" font-size="14.6" fill="#1f9985" stroke="#1f9985" stroke-width="0.12" textLength="43.7" lengthAdjust="spacingAndGlyphs">2.2960</text>
<text x="378" y="58.8" font-size="14.6" fill="#131722" stroke="#131722" stroke-width="0.12">L</text>
<text x="385.2" y="58.8" font-size="14.6" fill="#1f9985" stroke="#1f9985" stroke-width="0.12" textLength="44.4" lengthAdjust="spacingAndGlyphs">2.2860</text>
<text x="438.8" y="58.8" font-size="14.6" fill="#131722" stroke="#131722" stroke-width="0.12">C</text>
<text x="448" y="58.8" font-size="14.6" fill="#1f9985" stroke="#1f9985" stroke-width="0.12" textLength="43.5" lengthAdjust="spacingAndGlyphs">2.2889</text>
<text x="501.8" y="58.8" font-size="14.6" fill="#1f9985" stroke="#1f9985" stroke-width="0.12" textLength="113.6" lengthAdjust="spacingAndGlyphs">+0.0030 (+0.13%)</text>
<text x="1414.5" y="47.6" font-size="14.8" fill="#131722" stroke="#131722" stroke-width="0.35">2.8500</text>
<text x="1414.5" y="86.4" font-size="14.8" fill="#131722" stroke="#131722" stroke-width="0.35">2.8000</text>
<text x="1414.5" y="125.2" font-size="14.8" fill="#131722" stroke="#131722" stroke-width="0.35">2.7500</text>
<text x="1414.5" y="163.9" font-size="14.8" fill="#131722" stroke="#131722" stroke-width="0.35">2.7000</text>
<text x="1414.5" y="202.7" font-size="14.8" fill="#131722" stroke="#131722" stroke-width="0.35">2.6500</text>
<text x="1414.5" y="241.5" font-size="14.8" fill="#131722" stroke="#131722" stroke-width="0.35">2.6000</text>
<text x="1414.5" y="280.3" font-size="14.8" fill="#131722" stroke="#131722" stroke-width="0.35">2.5500</text>
<text x="1414.5" y="319.1" font-size="14.8" fill="#131722" stroke="#131722" stroke-width="0.35">2.5000</text>
<text x="1414.5" y="357.8" font-size="14.8" fill="#131722" stroke="#131722" stroke-width="0.35">2.4500</text>
<text x="1414.5" y="396.6" font-size="14.8" fill="#131722" stroke="#131722" stroke-width="0.35">2.4000</text>
<text x="1414.5" y="435.4" font-size="14.8" fill="#131722" stroke="#131722" stroke-width="0.35">2.3500</text>
<text x="1414.5" y="474.2" font-size="14.8" fill="#131722" stroke="#131722" stroke-width="0.35">2.3000</text>
<text x="1414.5" y="513.0" font-size="14.8" fill="#131722" stroke="#131722" stroke-width="0.35">2.2500</text>
<text x="1414.5" y="551.7" font-size="14.8" fill="#131722" stroke="#131722" stroke-width="0.35">2.2000</text>
<text x="1414.5" y="590.5" font-size="14.8" fill="#131722" stroke="#131722" stroke-width="0.35">2.1500</text>
<text x="1414.5" y="629.3" font-size="14.8" fill="#131722" stroke="#131722" stroke-width="0.35">2.1000</text>
<text x="1414.5" y="668.1" font-size="14.8" fill="#131722" stroke="#131722" stroke-width="0.35">2.0500</text>
<text x="1414.5" y="706.9" font-size="14.8" fill="#131722" stroke="#131722" stroke-width="0.35">2.0000</text>
<text x="1414.5" y="745.6" font-size="14.8" fill="#131722" stroke="#131722" stroke-width="0.35">1.9500</text>
<text x="1414.5" y="784.4" font-size="14.8" fill="#131722" stroke="#131722" stroke-width="0.35">1.9000</text>
<rect x="1340.3" y="467.3" width="62.4" height="20.4" rx="1.5" fill="#179c88"/>
<text x="1346" y="482.8" font-size="14.6" fill="#ffffff" stroke="#ffffff" stroke-width="0.6" textLength="51.5" lengthAdjust="spacingAndGlyphs">XRPUSD</text>
<rect x="1404.2" y="467.3" width="61.4" height="38.5" rx="1.5" fill="#179c88"/>
<text x="1414.8" y="482.8" font-size="14.8" fill="#ffffff" stroke="#ffffff" stroke-width="0.6">2.2889</text>
<text x="1414.8" y="500.8" font-size="14.8" fill="#ffffff" stroke="#ffffff" stroke-width="0.6">41:05</text>
<rect x="13" y="838.4" width="1390" height="65" fill="#f2eff9"/>
<line x1="13" y1="838.4" x2="1403" y2="838.4" stroke="#787b86" stroke-width="1" stroke-dasharray="4 4"/>
<line x1="13" y1="870.9" x2="1403" y2="870.9" stroke="#787b86" stroke-width="1" stroke-dasharray="4 4"/>
<line x1="13" y1="903.4" x2="1403" y2="903.4" stroke="#787b86" stroke-width="1" stroke-dasharray="4 4"/>
<g clip-path="url(#rp)"><path d="M13.0 854.3C14.2 854.2 17.4 850.6 20.4 853.6C23.4 856.6 27.6 866.1 30.8 872.2C34.0 878.3 36.7 887.0 39.7 890.0C42.7 893.0 45.6 891.9 48.6 890.0C51.6 888.1 54.0 879.3 57.5 878.8C61.0 878.3 65.6 887.6 69.3 887.0C73.0 886.4 76.7 880.7 79.7 875.0C82.7 869.3 84.0 851.1 87.2 852.9C90.4 854.6 95.3 884.0 99.0 885.5C102.7 887.0 105.9 862.8 109.4 861.8C112.9 860.8 116.6 878.4 119.8 879.6C123.0 880.8 124.7 872.9 128.7 869.2C132.6 865.5 138.6 859.3 143.5 857.3C148.4 855.3 154.0 850.9 158.4 857.3C162.8 863.7 166.2 892.9 170.2 895.9C174.1 898.9 178.1 875.6 182.1 875.1C186.1 874.6 190.1 896.4 194.0 892.9C197.9 889.4 201.6 855.5 205.8 854.3C210.0 853.1 215.2 884.9 219.2 885.5C223.1 886.1 225.4 856.5 229.5 858.1C233.6 859.7 239.3 893.6 243.5 895.1C247.7 896.6 250.4 868.0 254.7 867.0C259.0 866.0 264.8 885.4 269.5 889.2C274.2 893.0 279.2 894.2 282.9 890.0C286.6 885.8 288.6 865.5 291.8 864.0C295.0 862.5 299.0 880.5 302.2 881.0C305.4 881.5 308.0 868.5 311.0 867.0C314.0 865.5 317.0 874.8 320.0 872.2C323.0 869.6 325.9 855.9 328.9 851.4C331.9 846.9 332.9 840.5 337.8 845.4C342.7 850.3 354.1 874.8 358.5 881.0C362.9 887.2 362.0 880.0 364.5 882.5C367.0 885.0 370.4 898.9 373.4 895.9C376.4 892.9 379.3 870.5 382.3 864.7C385.3 858.9 388.0 860.5 391.2 861.0C394.4 861.5 397.9 874.2 401.6 867.7C405.3 861.2 409.7 822.5 413.4 821.7C417.1 821.0 420.3 859.5 423.8 863.2C427.3 866.9 430.7 843.2 434.2 844.0C437.7 844.8 442.6 863.8 445.0 867.7C447.4 871.7 446.8 868.9 448.9 867.7C451.0 866.5 454.3 856.2 457.8 860.3C461.3 864.4 467.0 887.5 469.7 892.2C472.4 896.9 472.0 886.4 474.1 888.5C476.2 890.6 477.6 908.8 482.3 904.8C487.0 900.8 497.7 868.9 502.3 864.7C506.9 860.5 506.7 880.3 509.7 879.6C512.7 878.9 517.1 863.5 520.1 860.3C523.1 857.1 524.6 867.1 527.5 860.3C530.4 853.5 534.5 822.5 537.2 819.5C539.9 816.5 541.5 830.8 543.9 842.5C546.2 854.2 547.6 882.6 551.3 890.0C555.0 897.4 561.9 890.5 566.1 887.0C570.3 883.5 572.8 872.2 576.5 869.2C580.2 866.2 585.2 868.2 588.4 869.2C591.6 870.2 593.3 871.4 595.8 875.1C598.3 878.8 600.7 890.9 603.2 891.4C605.7 891.9 608.1 877.4 610.6 878.1C613.1 878.9 614.8 892.1 618.0 895.9C621.2 899.7 625.9 905.0 629.9 901.1C633.9 897.2 638.1 882.5 641.8 872.2C645.5 861.9 649.2 844.5 652.2 839.5C655.2 834.5 656.6 839.0 659.5 842.5C662.4 846.0 666.1 856.3 669.8 860.3C673.5 864.2 679.0 864.2 681.7 866.2C684.4 868.2 684.2 866.5 686.2 872.2C688.2 877.9 690.6 897.6 693.6 900.3C696.6 903.0 700.3 897.9 704.0 888.5C707.7 879.1 711.6 848.7 715.8 844.0C720.0 839.3 725.0 857.3 729.2 860.3C733.4 863.3 737.6 859.6 741.1 861.8C744.6 864.0 747.3 875.3 750.0 873.6C752.7 871.9 754.2 848.9 757.4 851.4C760.6 853.9 765.8 884.4 769.2 888.5C772.7 892.6 774.9 882.6 778.1 875.9C781.3 869.2 785.8 853.3 788.5 848.4C791.2 843.5 790.5 840.0 794.5 846.2C798.5 852.4 807.1 880.9 812.3 885.5C817.5 890.1 822.1 874.8 825.6 873.6C829.1 872.4 829.8 882.8 833.0 878.1C836.2 873.4 841.8 848.6 845.0 845.4C848.2 842.2 851.1 856.6 852.3 858.8" fill="none" stroke="#f3d35c" stroke-width="1.6"/>
<polyline points="13.3,849.2 13.9,849.2 14.6,852.2 15.2,859.3 15.9,862.5 16.5,863.9 17.2,864.7 17.8,857.0 18.4,855.4 19.1,849.5 19.7,843.5 20.4,840.3 21.0,846.5 21.6,849.2 22.3,854.6 22.9,859.0 23.6,864.2 24.2,868.6 24.9,872.2 25.5,867.6 26.1,868.2 26.8,873.8 27.4,875.1 28.1,877.8 28.7,881.7 29.3,881.1 30.0,883.6 30.6,885.0 31.3,888.3 31.9,892.2 32.5,894.6 33.2,896.3 33.8,901.1 34.5,903.7 35.1,901.8 35.8,902.4 36.4,900.7 37.0,896.1 37.7,893.0 38.3,887.3 39.0,884.8 39.6,877.7 40.2,877.5 40.9,875.9 41.5,876.9 42.2,882.1 42.8,881.9 43.5,884.2 44.1,885.2 44.7,890.9 45.4,896.7 46.0,896.7 46.7,901.0 47.3,899.2 48.0,895.1 48.6,898.8 49.2,891.2 49.9,891.8 50.5,892.8 51.2,888.7 51.8,882.4 52.4,882.6 53.1,872.5 53.7,869.2 54.4,868.0 55.0,870.7 55.7,871.9 56.3,871.1 56.9,875.4 57.6,881.5 58.2,880.5 58.9,885.1 59.5,888.1 60.1,889.0 60.8,890.3 61.4,894.7 62.1,900.6 62.7,902.6 63.4,893.2 64.0,893.0 64.6,891.6 65.3,883.7 65.9,879.8 66.6,877.3 67.2,881.1 67.8,886.5 68.5,888.6 69.1,894.9 69.8,891.8 70.4,897.4 71.1,892.8 71.7,889.5 72.3,888.3 73.0,889.2 73.6,883.3 74.3,880.1 74.9,874.3 75.5,871.4 76.2,867.4 76.8,861.7 77.5,862.5 78.1,861.2 78.8,858.8 79.4,860.2 80.0,853.2 80.7,852.0 81.3,854.2 82.0,850.8 82.6,846.0 83.2,841.4 83.9,842.5 84.5,843.2 85.2,841.7 85.8,842.0 86.5,837.7 87.1,834.3 87.7,846.1 88.4,853.0 89.0,863.1 89.7,872.5 90.3,879.6 90.9,869.0 91.6,854.3 92.2,860.6 92.9,863.2 93.5,867.7 94.2,873.4 94.8,882.5 95.4,890.6 96.1,895.2 96.7,902.6 97.4,905.5 98.0,902.3 98.6,900.0 99.3,890.7 99.9,885.9 100.6,885.7 101.2,878.2 101.9,872.3 102.5,866.8 103.1,863.0 103.8,861.2 104.4,852.9 105.1,858.0 105.7,853.8 106.3,854.4 107.0,858.8 107.6,858.7 108.3,859.5 108.9,861.2 109.6,868.8 110.2,869.2 110.8,875.0 111.5,883.7 112.1,885.8 112.8,886.7 113.4,889.8 114.0,890.2 114.7,892.3 115.3,892.4 116.0,891.4 116.6,890.0 117.2,890.1 117.9,885.6 118.5,879.9 119.2,880.3 119.8,877.3 120.5,873.8 121.1,869.2 121.7,866.6 122.4,863.2 123.0,859.4 123.7,856.4 124.3,856.0 125.0,852.9 125.6,854.1 126.2,854.3 126.9,860.6 127.5,867.0 128.2,872.6 128.8,879.6 129.4,877.5 130.1,872.4 130.7,866.9 131.4,863.0 132.0,852.7 132.7,849.5 133.3,844.8 133.9,842.5 134.6,857.7 135.2,876.6 135.9,878.9 136.5,877.4 137.1,878.4 137.8,875.2 138.4,872.5 139.1,868.8 139.7,867.5 140.4,863.4 141.0,859.7 141.6,858.4 142.3,853.6 142.9,854.6 143.6,851.3 144.2,849.9 144.8,850.4 145.5,854.7 146.1,857.8 146.8,858.5 147.4,858.2 148.1,862.0 148.7,863.0 149.3,861.5 150.0,863.2 150.6,866.4 151.3,867.7 151.9,869.2 152.5,868.1 153.2,861.3 153.8,858.1 154.5,857.3 155.1,856.8 155.8,848.2 156.4,844.4 157.0,839.5 157.7,851.6 158.3,860.5 159.0,868.7 159.6,877.4 160.2,884.3 160.9,886.7 161.5,898.3 162.2,898.9 162.8,900.9 163.5,902.9 164.1,903.3 164.7,905.9 165.4,905.7 166.0,907.8 166.7,908.3 167.3,906.1 167.9,908.7 168.6,906.9 169.2,908.5 169.9,901.6 170.5,898.4 171.2,896.0 171.8,895.3 172.4,888.4 173.1,882.9 173.7,879.0 174.4,872.1 175.0,869.9 175.6,872.7 176.3,870.7 176.9,874.4 177.6,873.9 178.2,877.4 178.9,880.9 179.5,888.3 180.1,889.3 180.8,894.7 181.4,895.6 182.1,896.7 182.7,897.4 183.3,900.1 184.0,897.8 184.6,898.7 185.3,904.8 185.9,900.1 186.6,903.0 187.2,905.5 187.8,904.7 188.5,902.9 189.1,906.5 189.8,906.0 190.4,907.2 191.0,907.0 191.7,899.4 192.3,897.9 193.0,895.3 193.6,888.3 194.3,886.9 194.9,879.0 195.5,870.9 196.2,868.9 196.8,863.3 197.5,858.9 198.1,858.9 198.7,851.5 199.4,848.8 200.0,843.2 200.7,847.0 201.3,849.9 202.0,851.2 202.6,854.9 203.2,855.8 203.9,859.4 204.5,860.2 205.2,863.0 205.8,866.9 206.4,866.4 207.1,869.8 207.7,875.3 208.4,879.2 209.0,885.3 209.7,886.0 210.3,891.2 210.9,895.6 211.6,891.4 212.2,892.5 212.9,896.2 213.5,897.2 214.1,898.4 214.8,899.2 215.4,900.0 216.1,898.2 216.7,897.4 217.4,887.6 218.0,889.9 218.6,886.3 219.3,883.3 219.9,881.5 220.6,879.3 221.2,875.5 221.8,867.5 222.5,860.5 223.1,861.7 223.8,859.3 224.4,857.6 225.1,851.0 225.7,846.0 226.3,843.2 227.0,845.6 227.6,853.5 228.3,855.9 228.9,859.2 229.5,860.6 230.2,866.1 230.8,874.3 231.5,879.5 232.1,884.0 232.8,887.5 233.4,894.3 234.0,898.9 234.7,900.4 235.3,896.2 236.0,891.7 236.6,886.7 237.2,877.9 237.9,875.1 238.5,881.6 239.2,883.3 239.8,886.2 240.5,889.4 241.1,894.7 241.7,898.0 242.4,906.3 243.0,915.9 243.7,907.5 244.3,901.1 244.9,891.6 245.6,888.8 246.2,879.2 246.9,870.4 247.5,863.9 248.2,855.1 248.8,865.8 249.4,868.5 250.1,871.0 250.7,871.4 251.4,869.3 252.0,865.8 252.6,862.8 253.3,863.8 253.9,860.3 254.6,866.5 255.2,869.7 255.9,877.5 256.5,880.4 257.1,882.7 257.8,887.0 258.4,895.5 259.1,899.3 259.7,901.9 260.3,906.5 261.0,909.5 261.6,915.2 262.3,908.4 262.9,904.3 263.6,901.9 264.2,898.4 264.8,897.6 265.5,893.6 266.1,893.8 266.8,892.4 267.4,886.7 268.0,884.0 268.7,884.9 269.3,887.3 270.0,890.1 270.6,890.8 271.3,894.7 271.9,897.4 272.5,895.6 273.2,890.3 273.8,882.2 274.5,872.9 275.1,877.1 275.7,880.9 276.4,884.5 277.0,890.2 277.7,892.1 278.3,896.9 279.0,904.0 279.6,899.6 280.2,893.8 280.9,889.7 281.5,889.3 282.2,884.5 282.8,886.1 283.4,878.7 284.1,873.7 284.7,872.7 285.4,873.7 286.0,870.4 286.7,863.1 287.3,859.6 287.9,854.3 288.6,856.7 289.2,860.0 289.9,862.6 290.5,866.8 291.1,871.5 291.8,875.0 292.4,874.3 293.1,878.1 293.7,872.2 294.4,873.8 295.0,874.0 295.6,872.8 296.3,880.0 296.9,886.1 297.6,891.2 298.2,893.2 298.8,893.2 299.5,895.9 300.1,895.8 300.8,891.0 301.4,885.9 302.1,879.7 302.7,874.9 303.3,872.6 304.0,865.4 304.6,863.7 305.3,859.5 305.9,866.4 306.5,867.7 307.2,871.9 307.8,869.9 308.5,877.3 309.1,878.3 309.8,878.8 310.4,883.7 311.0,884.8 311.7,882.1 312.3,884.5 313.0,886.8 313.6,887.5 314.2,886.9 314.9,883.1 315.5,888.5 316.2,883.3 316.8,880.2 317.5,874.8 318.1,868.8 318.7,865.6 319.4,859.1 320.0,857.7 320.7,849.2 321.3,846.9 321.9,846.2 322.6,840.9 323.2,837.5 323.9,835.8 324.5,830.6 325.2,834.8 325.8,839.0 326.4,851.4 327.1,853.9 327.7,858.2 328.4,861.8 329.0,856.8 329.6,850.7 330.3,845.4 330.9,842.4 331.6,842.1 332.2,843.2 332.9,836.1 333.5,829.9 334.1,832.5 334.8,832.5 335.4,833.1 336.1,835.2 336.7,836.4 337.3,836.8 338.0,840.1 338.6,840.7 339.3,842.6 339.9,846.3 340.6,851.0 341.2,854.3 341.8,860.1 342.5,863.2 343.1,860.0 343.8,865.1 344.4,873.9 345.0,877.1 345.7,882.6 346.3,886.6 347.0,886.3 347.6,889.0 348.3,888.0 348.9,887.4 349.5,889.9 350.2,891.1 350.8,890.2 351.5,887.3 352.1,890.4 352.7,891.4 353.4,890.0 354.0,885.7 354.7,881.7 355.3,879.7 356.0,872.7 356.6,874.2 357.2,872.4 357.9,873.6 358.5,874.5 359.2,871.0 359.8,870.6 360.4,865.7 361.1,861.3 361.7,863.2 362.4,869.9 363.0,875.9 363.7,885.4 364.3,893.7 364.9,904.6 365.6,909.2 366.2,916.7 366.9,921.9 367.5,918.9 368.1,915.0 368.8,909.3 369.4,901.3 370.1,894.5 370.7,894.0 371.4,889.8 372.0,883.7 372.6,881.1 373.3,874.9 373.9,874.3 374.6,873.6 375.2,870.6 375.8,865.9 376.5,857.8 377.1,856.0 377.8,858.6 378.4,856.0 379.1,851.4 379.7,855.5 380.3,856.4 381.0,854.9 381.6,856.6 382.3,860.1 382.9,857.0 383.5,861.8 384.2,868.3 384.8,870.1 385.5,870.7 386.1,862.4 386.8,859.6 387.4,854.5 388.0,853.6 388.7,853.6 389.3,857.7 390.0,858.8 390.6,854.4 391.2,858.7 391.9,858.0 392.5,857.3 393.2,860.9 393.8,862.8 394.5,860.6 395.1,860.3 395.7,860.1 396.4,860.3 397.0,857.7 397.7,862.5 398.3,862.7 398.9,865.2 399.6,868.8 400.2,875.4 400.9,878.1 401.5,871.6 402.2,865.8 402.8,863.7 403.4,863.8 404.1,855.3 404.7,856.1 405.4,850.0 406.0,845.0 406.6,839.3 407.3,836.4 407.9,831.4 408.6,826.7 409.2,819.7 409.9,819.2 410.5,815.7 411.1,811.1 411.8,812.5 412.4,809.8 413.1,819.5 413.7,824.6 414.3,830.9 415.0,836.3 415.6,844.6 416.3,851.3 416.9,852.4 417.6,859.9 418.2,865.2 418.8,871.7 419.5,880.3 420.1,876.5 420.8,875.2 421.4,872.2 422.0,868.9 422.7,864.4 423.3,861.1 424.0,857.2 424.6,856.3 425.3,846.9 425.9,845.4 426.5,842.2 427.2,836.2 427.8,835.4 428.5,832.2 429.1,830.7 429.7,831.4 430.4,838.9 431.0,841.4 431.7,843.9 432.3,850.7 433.0,854.2 433.6,867.1 434.2,873.8 434.9,875.7 435.5,876.6 436.2,872.1 436.8,862.3 437.4,860.6 438.1,851.2 438.7,850.6 439.4,854.5 440.0,862.9 440.7,865.0 441.3,869.0 441.9,877.3 442.6,878.1 443.2,874.6 443.9,873.3 444.5,865.2 445.1,859.5 445.8,858.8 446.4,865.5 447.1,872.7 447.7,875.0 448.4,876.6 449.0,871.1 449.6,865.1 450.3,862.3 450.9,859.7 451.6,856.1 452.2,849.2 452.8,851.5 453.5,852.9 454.1,853.6 454.8,857.1 455.4,856.2 456.1,856.6 456.7,859.8 457.3,857.8 458.0,860.3 458.6,868.4 459.3,878.7 459.9,888.4 460.5,892.9 461.2,897.8 461.8,896.4 462.5,893.0 463.1,892.1 463.8,891.0 464.4,888.4 465.0,891.1 465.7,892.4 466.3,894.0 467.0,890.1 467.6,895.1 468.2,896.3 468.9,899.4 469.5,900.3 470.2,895.1 470.8,891.0 471.5,885.2 472.1,882.8 472.7,875.1 473.4,874.0 474.0,877.6 474.7,882.1 475.3,887.8 475.9,892.6 476.6,898.3 477.2,904.1 477.9,908.2 478.5,914.3 479.2,920.4 479.8,912.7 480.4,902.2 481.1,897.3 481.7,893.1 482.4,890.5 483.0,888.1 483.6,883.3 484.3,881.0 484.9,880.7 485.6,880.8 486.2,885.8 486.9,883.8 487.5,885.1 488.1,883.5 488.8,881.5 489.4,888.7 490.1,885.1 490.7,891.4 491.3,887.2 492.0,882.2 492.6,874.7 493.3,872.4 493.9,871.2 494.6,869.9 495.2,864.4 495.8,866.1 496.5,863.7 497.1,862.2 497.8,861.0 498.4,859.6 499.0,855.8 499.7,864.5 500.3,870.3 501.0,878.8 501.6,883.8 502.3,887.6 502.9,893.7 503.5,890.6 504.2,886.1 504.8,882.6 505.5,878.4 506.1,875.8 506.7,878.0 507.4,877.0 508.0,876.6 508.7,876.7 509.3,876.5 510.0,875.0 510.6,874.7 511.2,875.0 511.9,871.9 512.5,868.5 513.2,865.8 513.8,863.0 514.4,861.6 515.1,857.7 515.7,853.9 516.4,851.9 517.0,850.6 517.6,855.1 518.3,855.7 518.9,859.8 519.6,866.8 520.2,871.0 520.9,879.1 521.5,882.5 522.1,876.9 522.8,874.1 523.4,872.3 524.1,866.5 524.7,865.6 525.4,861.2 526.0,857.3 526.6,857.3 527.3,854.6 527.9,849.1 528.6,844.0 529.2,836.5 529.8,834.9 530.5,831.2 531.1,831.6 531.8,830.3 532.4,825.6 533.0,819.3 533.7,813.7 534.3,812.5 535.0,807.4 535.6,805.9 536.3,804.6 536.9,821.7 537.5,835.3 538.2,850.2 538.8,859.7 539.5,873.6 540.1,874.7 540.8,878.3 541.4,874.5 542.0,874.7 542.7,882.1 543.3,883.5 544.0,883.3 544.6,884.6 545.2,885.3 545.9,885.4 546.5,888.1 547.2,889.8 547.8,894.0 548.5,901.9 549.1,905.0 549.7,907.0 550.4,910.5 551.0,906.3 551.7,910.7 552.3,907.1 552.9,905.3 553.6,905.0 554.2,900.8 554.9,898.6 555.5,898.6 556.1,899.2 556.8,894.9 557.4,886.2 558.1,887.6 558.7,882.5 559.4,886.2 560.0,890.2 560.6,895.1 561.3,896.3 561.9,897.4 562.6,902.7 563.2,899.2 563.9,893.2 564.5,886.4 565.1,882.5 565.8,884.0 566.4,882.7 567.1,877.0 567.7,870.0 568.3,865.1 569.0,861.8 569.6,863.9 570.3,866.5 570.9,870.8 571.5,868.4 572.2,865.4 572.8,866.4 573.5,869.3 574.1,869.0 574.8,871.0 575.4,872.1 576.0,876.5 576.7,877.2 577.3,877.2 578.0,879.8 578.6,883.8 579.2,883.3 579.9,879.0 580.5,873.0 581.2,865.9 581.8,868.6 582.5,863.0 583.1,858.1 583.7,861.7 584.4,863.9 585.0,868.0 585.7,872.3 586.3,877.8 587.0,880.8 587.6,881.4 588.2,885.5 588.9,882.0 589.5,880.1 590.2,874.4 590.8,868.3 591.4,860.8 592.1,859.5 592.7,863.9 593.4,868.5 594.0,874.4 594.6,879.9 595.3,886.1 595.9,893.3 596.6,904.0 597.2,902.5 597.9,900.7 598.5,893.7 599.1,896.9 599.8,895.3 600.4,894.8 601.1,891.0 601.7,887.8 602.4,883.8 603.0,880.4 603.6,876.4 604.3,875.6 604.9,875.6 605.6,872.6 606.2,868.8 606.8,868.2 607.5,864.7 608.1,871.5 608.8,875.0 609.4,884.1 610.0,888.1 610.7,895.0 611.3,905.0 612.0,911.3 612.6,915.9 613.3,914.5 613.9,915.2 614.5,905.7 615.2,901.1 615.8,897.2 616.5,896.2 617.1,888.5 617.8,887.3 618.4,884.0 619.0,882.1 619.7,875.8 620.3,875.9 621.0,888.1 621.6,893.5 622.2,900.3 622.9,902.4 623.5,899.7 624.2,904.5 624.8,908.9 625.5,915.9 626.1,921.1 626.7,911.7 627.4,899.8 628.0,897.2 628.7,894.1 629.3,888.1 629.9,881.7 630.6,877.9 631.2,870.7 631.9,865.9 632.5,868.1 633.1,863.0 633.8,860.6 634.4,862.9 635.1,862.9 635.7,864.7 636.4,873.7 637.0,879.2 637.6,880.0 638.3,880.2 638.9,879.0 639.6,885.9 640.2,886.8 640.9,891.4 641.5,883.0 642.1,875.3 642.8,866.6 643.4,861.5 644.1,853.8 644.7,848.1 645.3,839.2 646.0,830.6 646.6,830.3 647.3,830.9 647.9,832.3 648.5,830.2 649.2,831.2 649.8,838.1 650.5,829.9 651.1,834.5 651.8,836.9 652.4,839.1 653.0,840.2 653.7,839.7 654.3,843.2 655.0,844.0 655.6,845.8 656.2,844.0 656.9,846.3 657.5,843.9 658.2,837.3 658.8,841.0 659.5,844.1 660.1,849.0 660.7,844.8 661.4,847.6 662.0,854.2 662.7,856.9 663.3,853.7 664.0,857.4 664.6,861.3 665.2,867.7 665.9,865.5 666.5,859.0 667.2,858.6 667.8,856.8 668.4,856.4 669.1,852.1 669.7,851.3 670.4,841.7 671.0,844.9 671.6,853.6 672.3,865.0 672.9,873.6 673.6,873.9 674.2,873.3 674.9,872.0 675.5,874.9 676.1,869.8 676.8,870.4 677.4,874.5 678.1,869.7 678.7,863.2 679.4,860.3 680.0,862.4 680.6,866.1 681.3,866.6 681.9,870.9 682.6,871.6 683.2,869.2 683.8,880.5 684.5,889.0 685.1,895.6 685.8,899.4 686.4,900.7 687.0,906.2 687.7,916.7 688.3,908.9 689.0,900.0 689.6,892.6 690.3,889.0 690.9,885.5 691.5,894.6 692.2,897.9 692.8,907.8 693.5,907.7 694.1,904.2 694.8,902.6 695.4,902.6 696.0,899.1 696.7,892.1 697.3,888.9 698.0,885.4 698.6,882.7 699.2,885.5 699.9,887.8 700.5,889.3 701.2,895.0 701.8,897.2 702.5,895.9 703.1,889.2 703.7,884.3 704.4,872.1 705.0,869.2 705.7,871.2 706.3,864.6 706.9,861.9 707.6,859.6 708.2,857.8 708.9,855.1 709.5,853.7 710.1,848.1 710.8,844.0 711.4,840.3 712.1,841.8 712.7,847.6 713.4,850.4 714.0,847.8 714.6,849.1 715.3,854.8 715.9,860.9 716.6,866.0 717.2,866.6 717.9,869.0 718.5,869.8 719.1,867.0 719.8,867.4 720.4,866.6 721.1,863.3 721.7,863.2 722.3,862.5 723.0,862.3 723.6,864.7 724.3,862.2 724.9,862.8 725.6,864.3 726.2,865.6 726.8,866.8 727.5,867.4 728.1,863.4 728.8,858.0 729.4,856.8 730.0,856.1 730.7,853.9 731.3,852.1 732.0,854.4 732.6,862.6 733.2,865.7 733.9,871.4 734.5,869.2 735.2,865.5 735.8,864.1 736.5,858.3 737.1,853.7 737.7,846.2 738.4,841.7 739.0,848.3 739.7,849.9 740.3,853.8 741.0,857.2 741.6,861.2 742.2,864.1 742.9,869.1 743.5,869.7 744.2,874.2 744.8,883.0 745.4,884.0 746.1,883.7 746.7,879.1 747.4,874.8 748.0,877.3 748.6,876.6 749.3,860.4 749.9,847.1 750.6,831.0 751.2,812.8 751.9,818.8 752.5,833.3 753.1,850.6 753.8,861.8 754.4,861.1 755.1,858.9 755.7,863.2 756.4,859.2 757.0,862.9 757.6,867.9 758.3,869.3 758.9,869.0 759.6,870.8 760.2,877.9 760.8,877.3 761.5,877.7 762.1,881.8 762.8,882.7 763.4,889.1 764.1,889.7 764.7,888.9 765.3,887.4 766.0,889.4 766.6,895.2 767.3,897.9 767.9,898.9 768.5,891.8 769.2,889.8 769.8,885.1 770.5,888.8 771.1,882.7 771.8,876.1 772.4,869.7 773.0,867.4 773.7,866.3 774.3,864.2 775.0,864.7 775.6,869.2 776.2,870.1 776.9,877.5 777.5,877.8 778.2,881.0 778.8,871.6 779.5,865.3 780.1,855.7 780.7,847.2 781.4,832.1 782.0,834.5 782.7,837.6 783.3,844.5 783.9,842.3 784.6,841.5 785.2,846.5 785.9,855.7 786.5,858.8 787.1,851.6 787.8,845.4 788.4,843.1 789.1,839.4 789.7,839.6 790.4,841.4 791.0,842.4 791.6,838.5 792.3,835.3 792.9,833.6 793.6,842.1 794.2,850.9 794.9,857.1 795.5,867.3 796.1,876.6 796.8,876.3 797.4,877.5 798.1,882.6 798.7,885.0 799.3,884.8 800.0,884.5 800.6,887.8 801.3,889.5 801.9,890.5 802.6,889.0 803.2,888.9 803.8,889.9 804.5,895.5 805.1,892.5 805.8,893.4 806.4,891.4 807.0,885.5 807.7,889.9 808.3,884.3 809.0,885.7 809.6,886.6 810.2,885.9 810.9,884.0 811.5,888.1 812.2,893.7 812.8,893.1 813.5,892.9 814.1,893.0 814.7,886.6 815.4,881.2 816.0,879.4 816.7,877.5 817.3,871.9 818.0,872.8 818.6,872.5 819.2,871.6 819.9,872.8 820.5,872.8 821.2,870.7 821.8,871.4 822.4,877.1 823.1,878.1 823.7,878.5 824.4,878.2 825.0,882.6 825.6,885.8 826.3,887.7 826.9,892.8 827.6,892.9 828.2,891.9 828.9,887.2 829.5,883.5 830.1,879.6 830.8,876.9 831.4,877.6 832.1,872.6 832.7,872.2 833.4,871.2 834.0,866.2 834.6,859.9 835.3,852.1 835.9,847.4 836.6,851.0 837.2,846.0 837.8,841.8 838.5,834.7 839.1,831.4 839.8,827.6 840.4,835.3 841.1,846.2 841.7,854.0 842.3,856.6 843.0,861.1 843.6,862.4 844.3,866.2 844.9,859.1 845.5,859.2 846.2,849.9 846.8,853.0 847.5,854.8 848.1,851.9 848.8,855.6 849.4,860.7 850.0,867.1 850.7,867.8 851.3,871.4 852.0,866.7 852.6,865.5 853.2,860.2 853.9,858.0 854.5,849.9 855.2,849.9" fill="none" stroke="#7e57c2" stroke-width="1.5"/></g>
<text x="23.7" y="814.7" font-size="14.8" fill="#7e57c2" stroke="#7e57c2" stroke-width="0.35">62.66</text>
<text x="69.7" y="814.7" font-size="14.8" fill="#f0cf4a" stroke="#f0cf4a" stroke-width="0.35">57.41</text>
<text x="1414.6" y="834.6" font-size="14.8" fill="#131722" stroke="#131722" stroke-width="0.35">75.00</text>
<text x="1414.6" y="916.5" font-size="14.8" fill="#131722" stroke="#131722" stroke-width="0.35">25.00</text>
<rect x="1404" y="839.9" width="53.7" height="20.4" fill="#7e57c2"/>
<rect x="1404" y="860.3" width="53.7" height="21.2" fill="#fbd23c"/>
<text x="1414.6" y="855.6" font-size="14.8" fill="#ffffff" stroke="#ffffff" stroke-width="0.35">62.66</text>
<text x="1414.6" y="876.4" font-size="14.8" fill="#131722" stroke="#131722" stroke-width="0.35">57.41</text>
<text x="50.5" y="957.8" font-size="14.8" fill="#131722" stroke="#131722" stroke-width="0.2" text-anchor="middle">16</text>
<text x="127.5" y="957.8" font-size="14.8" fill="#131722" stroke="#131722" stroke-width="0.2" text-anchor="middle">21</text>
<text x="204.5" y="957.8" font-size="14.8" fill="#131722" stroke="#131722" stroke-width="0.2" text-anchor="middle">26</text>
<text x="296.9" y="957.8" font-size="14.8" fill="#131722" font-weight="bold" text-anchor="middle">Jun</text>
<text x="373.9" y="957.8" font-size="14.8" fill="#131722" stroke="#131722" stroke-width="0.2" text-anchor="middle">6</text>
<text x="450.9" y="957.8" font-size="14.8" fill="#131722" stroke="#131722" stroke-width="0.2" text-anchor="middle">11</text>
<text x="527.9" y="957.8" font-size="14.8" fill="#131722" stroke="#131722" stroke-width="0.2" text-anchor="middle">16</text>
<text x="604.9" y="957.8" font-size="14.8" fill="#131722" stroke="#131722" stroke-width="0.2" text-anchor="middle">21</text>
<text x="681.9" y="957.8" font-size="14.8" fill="#131722" stroke="#131722" stroke-width="0.2" text-anchor="middle">26</text>
<text x="758.9" y="957.8" font-size="14.8" fill="#131722" font-weight="bold" text-anchor="middle">Jul</text>
<text x="835.9" y="957.8" font-size="14.8" fill="#131722" stroke="#131722" stroke-width="0.2" text-anchor="middle">6</text>
<text x="912.9" y="957.8" font-size="14.8" fill="#131722" stroke="#131722" stroke-width="0.2" text-anchor="middle">11</text>
<text x="989.9" y="957.8" font-size="14.8" fill="#131722" stroke="#131722" stroke-width="0.2" text-anchor="middle">16</text>
<text x="1066.9" y="957.8" font-size="14.8" fill="#131722" stroke="#131722" stroke-width="0.2" text-anchor="middle">21</text>
<text x="1143.9" y="957.8" font-size="14.8" fill="#131722" stroke="#131722" stroke-width="0.2" text-anchor="middle">26</text>
<path d="M13.2 986H22.7V998H17.5V990.3H13.2Z" fill="#131722"/>
<circle cx="27.4" cy="988.4" r="2.3" fill="#131722"/>
<path d="M31.2 986H37.3L32.6 998H26.9Z" fill="#131722"/>
<text x="42.5" y="997.9" font-size="15.6" fill="#131722" stroke="#131722" stroke-width="0.1" textLength="86.4" lengthAdjust="spacingAndGlyphs">TradingView</text>
</svg></body></html>
